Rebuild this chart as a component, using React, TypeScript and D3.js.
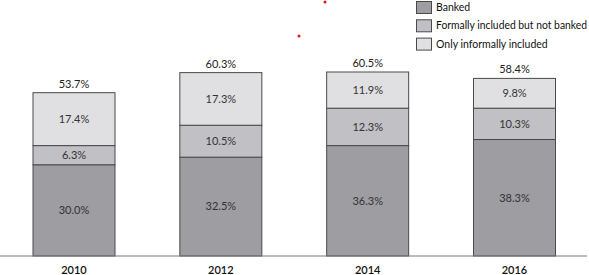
import React from "react";
import * as d3 from "d3";

const years = ["2010", "2012", "2014", "2016"];
const banked = [30.0, 32.5, 36.3, 38.3];
const formal = [6.3, 10.5, 12.3, 10.3];
const informal = [17.4, 17.3, 11.9, 9.8];
const totals = [53.7, 60.3, 60.5, 58.4];
const seriesNames = ["Banked", "Formally included but not banked", "Only informally included"];
const seriesColors = ["#9e9da2", "#c1c0c5", "#e0e0e2"];

const W = 589;
const H = 275;
const FONT = "Lato, 'Open Sans', sans-serif";

export default function App() {
  const x = d3.scalePoint<string>().domain(years).range([74, 514.5]);
  const y = d3.scaleLinear().domain([0, 60.5]).range([256, 72]);
  const barW = 82;
  const rows = years.map((yr, i) => ({ year: yr, banked: banked[i], formal: formal[i], informal: informal[i] }));
  const stack = d3.stack<any>().keys(["banked", "formal", "informal"])(rows);

  return (
    <svg width={W} height={H} style={{ position: "absolute", left: 0, top: 0, background: "#fff" }} fontFamily={FONT}>
      {stack.map((s, si) => (
        <g key={si}>
          {s.map((d, i) => {
            const x0 = (x(years[i]) as number) - barW / 2;
            const y1 = y(d[1]);
            const y0 = y(d[0]);
            return (
              <g key={i}>
                <rect x={x0} y={y1} width={barW} height={y0 - y1} fill={seriesColors[si]} stroke="#4a4a4a" strokeWidth={1} />
                <text x={x(years[i])} y={(y0 + y1) / 2} dy="0.35em" textAnchor="middle" fontSize={11} fill="#333">
                  {(d[1] - d[0]).toFixed(1)}%
                </text>
              </g>
            );
          })}
        </g>
      ))}
      {totals.map((t, i) => (
        <text key={i} x={x(years[i])} y={y(t) - 5} textAnchor="middle" fontSize={11} fill="#222">
          {t.toFixed(1)}%
        </text>
      ))}
      <line x1={0} x2={587} y1={y(0)} y2={y(0)} stroke="#7a7a7a" strokeWidth={1.2} />
      {years.map((yr) => (
        <text key={yr} x={x(yr)} y={270} dy="0.35em" textAnchor="middle" fontSize={11} fontWeight={600} fill="#111">
          {yr}
        </text>
      ))}
      {seriesNames.map((n, i) => (
        <g key={n} transform={`translate(416.5, ${1.5 + i * 18.3})`}>
          <rect width={15} height={12} fill={seriesColors[i]} stroke="#4a4a4a" strokeWidth={1} />
          <text x={19.5} y={6} dy="0.35em" fontSize={10.5} fill="#111"
            textLength={i === 1 ? 151 : undefined} lengthAdjust="spacingAndGlyphs">{n}</text>
        </g>
      ))}
      <circle cx={325} cy={2} r={1.5} fill="#e3151a" />
      <circle cx={299} cy={36} r={1.5} fill="#e3151a" />
    </svg>
  );
}
